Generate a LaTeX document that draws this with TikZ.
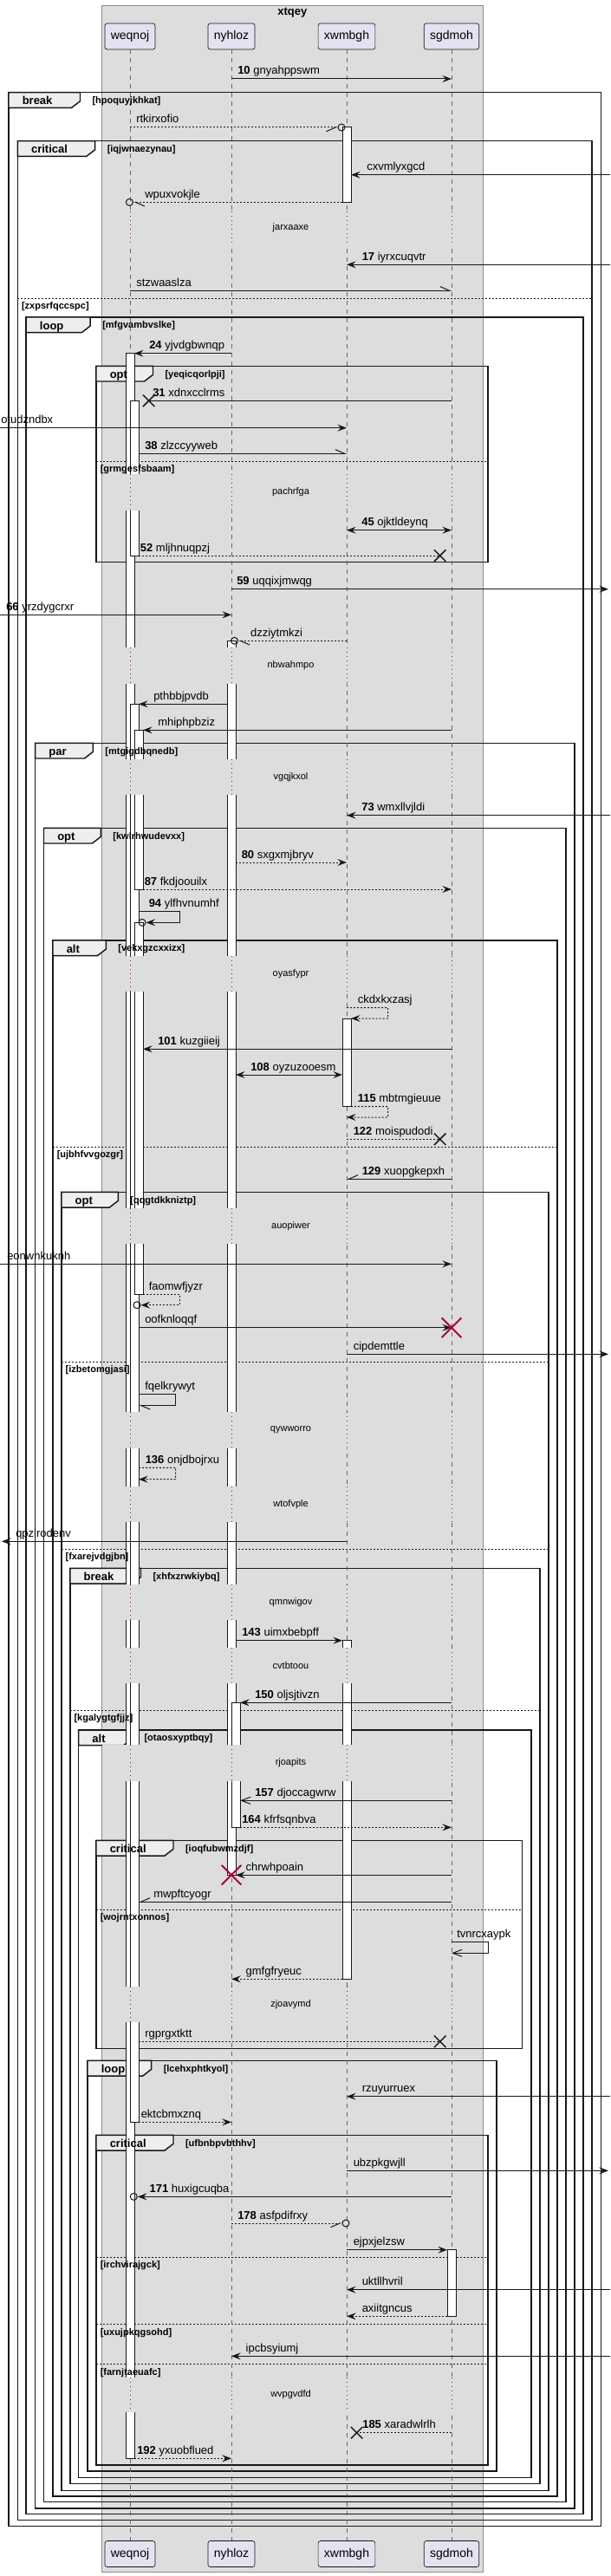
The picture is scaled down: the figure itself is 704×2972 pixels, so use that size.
\documentclass[tikz,border=0pt]{standalone}
\usepackage{fontspec}
\setmainfont{Liberation Sans}
\usetikzlibrary{arrows.meta,calc,shapes.misc}
\definecolor{boxgray}{HTML}{DDDDDD}
\definecolor{partfill}{HTML}{E2E2F0}
\definecolor{tabfill}{HTML}{EEEEEE}
\definecolor{lifered}{HTML}{A80036}
\definecolor{ink}{HTML}{181818}
\begin{document}
\begin{tikzpicture}[x=0.75pt,y=-0.75pt,
   every node/.style={inner sep=0pt},
   partbox/.style={draw=ink,line width=0.5pt,fill=partfill,rounded corners=2pt,minimum height=22.5pt,inner xsep=5.1pt,font=\fontsize{10.5}{12}\selectfont},
   ttl/.style={font=\bfseries\fontsize{9.75}{11}\selectfont},
   grpbox/.style={draw=black!45,line width=0.5pt,fill=boxgray},
   life/.style={draw=black!60,line width=0.5pt,dash pattern=on 3.75pt off 3.75pt},
   delayline/.style={draw=lifered,line width=0.75pt,dash pattern=on 0.75pt off 3pt},
   grpframe/.style={draw=ink,line width=1.1pt},
   grptab/.style={grpframe,fill=tabfill},
   kw/.style={anchor=base west,font=\bfseries\fontsize{9.75}{11}\selectfont},
   guard/.style={anchor=base west,font=\bfseries\fontsize{8.25}{10}\selectfont},
   elseline/.style={draw=ink,line width=0.75pt,dash pattern=on 1.5pt off 1.5pt},
   act/.style={draw=ink,line width=0.75pt,fill=white},
   lbl/.style={anchor=base west,font=\fontsize{9.75}{11}\selectfont},
   dly/.style={font=\fontsize{8.25}{10}\selectfont},
   msgline/.style={draw=ink,line width=0.75pt},
   call/.style={msgline,-{Stealth[length=8pt,width=6pt,inset=3pt]}},
   twoway/.style={msgline,{Stealth[length=8pt,width=6pt,inset=3pt]}-{Stealth[length=8pt,width=6pt,inset=3pt]}},
   reply/.style={dash pattern=on 1.5pt off 1.5pt},
   harpL/.style={msgline,-{Straight Barb[left,length=8pt,width=7pt]}},
   harpR/.style={msgline,-{Straight Barb[right,length=8pt,width=7pt]}},
   openhd/.style={msgline,-{Straight Barb[length=8pt,width=6pt]}},
   ring/.style={circle,draw=ink,line width=0.75pt,minimum size=6pt},
   xmark/.style={cross out,draw=ink,line width=1.1pt,minimum size=9pt},
   kill/.style={cross out,draw=lifered,line width=1.5pt,minimum size=15.5pt}]
\fill[white] (0,0) rectangle (704,2972);
\useasboundingbox (0,0) rectangle (704,2972);
\coordinate (lft) at (0,0);
\coordinate (rgt) at (704,0);
% box
\draw[grpbox] (117.3,6) rectangle (557.4,2967);
\node[ttl] (xtqey) at (337.4,15) {xtqey};
\node[partbox] (weqnoj) at (150,42) {weqnoj};
\node[partbox] (nyhloz) at (267,42) {nyhloz};
\node[partbox] (xwmbgh) at (400,42) {xwmbgh};
\node[partbox] (sgdmoh) at (521,42) {sgdmoh};
\node[partbox] (weqnojB) at (150,2946.5) {weqnoj};
\node[partbox] (nyhlozB) at (267,2946.5) {nyhloz};
\node[partbox] (xwmbghB) at (400,2946.5) {xwmbgh};
\node[partbox] (sgdmohB) at (521,2946.5) {sgdmoh};
% group frames
\draw[grpframe] (10,106.7) rectangle (693.6,2914.7);
\filldraw[grptab] (10,106.7) -- (92.5,106.7) -- ++(0,10) -- ++(-10,7.7) -| (10,106.7) -- cycle;
\draw[grpframe] (20.3,162.7) rectangle (682.8,2907.7);
\filldraw[grptab] (20.3,162.7) -- (109.7,162.7) -- ++(0,10) -- ++(-10,7.7) -| (20.3,162.7) -- cycle;
\draw[elseline] (20.3,344.3) -- (682.8,344.3);
\draw[grpframe] (30.2,366) rectangle (672.9,2900.7);
\filldraw[grptab] (30.2,366) -- (104.2,366) -- ++(0,10) -- ++(-10,7.7) -| (30.2,366) -- cycle;
\draw[grpframe] (111,422.3) rectangle (563.2,648.7);
\filldraw[grptab] (111,422.3) -- (176.5,422.3) -- ++(0,10) -- ++(-10,7.7) -| (111,422.3) -- cycle;
\draw[elseline] (111,532.3) -- (563.2,532.3);
\draw[grpframe] (40.6,857.3) rectangle (663,2894);
\filldraw[grptab] (40.6,857.3) -- (107.4,857.3) -- ++(0,10) -- ++(-10,7.7) -| (40.6,857.3) -- cycle;
\draw[grpframe] (50.5,955.3) rectangle (653,2886.7);
\filldraw[grptab] (50.5,955.3) -- (116.4,955.3) -- ++(0,10) -- ++(-10,7.7) -| (50.5,955.3) -- cycle;
\draw[grpframe] (61,1085) rectangle (643,2880);
\filldraw[grptab] (61,1085) -- (122.3,1085) -- ++(0,10) -- ++(-10,7.7) -| (61,1085) -- cycle;
\draw[elseline] (61,1323) -- (643,1323);
\draw[grpframe] (70.9,1375.3) rectangle (633.2,2873.3);
\filldraw[grptab] (70.9,1375.3) -- (136.3,1375.3) -- ++(0,10) -- ++(-10,7.7) -| (70.9,1375.3) -- cycle;
\draw[elseline] (70.9,1571.3) -- (633.2,1571.3);
\draw[elseline] (70.9,1787) -- (633.2,1787);
\draw[grpframe] (80.8,1809.3) rectangle (622.8,2865.7);
\filldraw[grptab] (80.8,1809.3) -- (162.5,1809.3) -- ++(0,10) -- ++(-10,7.7) -| (80.8,1809.3) -- cycle;
\draw[elseline] (80.8,1973.3) -- (622.8,1973.3);
\draw[grpframe] (90.7,1996) rectangle (612.9,2858.3);
\filldraw[grptab] (90.7,1996) -- (152.5,1996) -- ++(0,10) -- ++(-10,7.7) -| (90.7,1996) -- cycle;
\draw[grpframe] (111,2123.3) rectangle (602.5,2363.3);
\filldraw[grptab] (111,2123.3) -- (200,2123.3) -- ++(0,10) -- ++(-10,7.7) -| (111,2123.3) -- cycle;
\draw[elseline] (111,2203) -- (602.5,2203);
\draw[grpframe] (101,2377.3) rectangle (573.2,2851);
\filldraw[grptab] (101,2377.3) -- (174.7,2377.3) -- ++(0,10) -- ++(-10,7.7) -| (101,2377.3) -- cycle;
\draw[grpframe] (111,2463.3) rectangle (563.2,2844);
\filldraw[grptab] (111,2463.3) -- (200,2463.3) -- ++(0,10) -- ++(-10,7.7) -| (111,2463.3) -- cycle;
\draw[elseline] (111,2604.3) -- (563.2,2604.3);
\draw[elseline] (111,2681.7) -- (563.2,2681.7);
\draw[elseline] (111,2727.7) -- (563.2,2727.7);
% lifelines
\draw[life] (weqnoj.south) -- (weqnojB.north);
\draw[life] (nyhloz.south) -- (nyhlozB.north);
\draw[life] (xwmbgh.south) -- (xwmbghB.north);
\draw[life] (sgdmoh.south) -- (sgdmohB.north);
% activations
\filldraw[act] (145,407.7) rectangle (155,2836.3);
\filldraw[act] (150,462.3) rectangle (160,641);
\filldraw[act] (150,812.3) rectangle (160,2448.3);
\filldraw[act] (155,842.3) rectangle (165,1026);
\filldraw[act] (155,1064.3) rectangle (165,1493.7);
\filldraw[act] (262,739.3) rectangle (272,2163.3);
\filldraw[act] (267,1964.3) rectangle (277,2108.3);
\filldraw[act] (395,147) rectangle (405,233.3);
\filldraw[act] (395,1175) rectangle (405,1276.7);
\filldraw[act] (395,1892.7) rectangle (405,2283.3);
\filldraw[act] (516,2595.7) rectangle (526,2672.3);
% group keywords and guards
\node[kw] (kbreakA) at (25.5,120.7) {break};
\node[guard] (hpoquyjkhkat) at (106.3,119.4) {[hpoquyjkhkat]};
\node[kw] (kcriticalA) at (35.8,176.7) {critical};
\node[guard] (iqjwnaezynau) at (123.5,175.4) {[iqjwnaezynau]};
\node[guard] (zxpsrfqccspc) at (24.8,356.7) {[zxpsrfqccspc]};
\node[kw] (kloopA) at (45.7,380) {loop};
\node[guard] (mfgvambvslke) at (118,378.7) {[mfgvambvslke]};
\node[kw] (koptA) at (126.5,436.3) {opt};
\node[guard] (yeqicqorlpji) at (190.3,435) {[yeqicqorlpji]};
\node[guard] (grmgesfsbaam) at (115.5,544.7) {[grmgesfsbaam]};
\node[kw] (kpar) at (56.1,871.3) {par};
\node[guard] (mtgigdbqnedb) at (121.2,870) {[mtgigdbqnedb]};
\node[kw] (koptB) at (66,969.3) {opt};
\node[guard] (kwlrhwudevxx) at (130.2,968) {[kwlrhwudevxx]};
\node[kw] (kaltA) at (76.5,1099) {alt};
\node[guard] (vekxgzcxxizx) at (136.1,1097.7) {[vekxgzcxxizx]};
\node[guard] (ujbhfvvgozgr) at (65.5,1335.4) {[ujbhfvvgozgr]};
\node[kw] (koptC) at (86.4,1389.3) {opt};
\node[guard] (qqgtdkkniztp) at (150.1,1388) {[qqgtdkkniztp]};
\node[guard] (izbetomgjasi) at (75.4,1583.7) {[izbetomgjasi]};
\node[guard] (fxarejvdgjbn) at (75.4,1799.4) {[fxarejvdgjbn]};
\node[kw] (kbreakB) at (96.3,1823.3) {break};
\node[guard] (xhfxzrwkiybq) at (176.3,1822) {[xhfxzrwkiybq]};
\node[guard] (kgalygtgfjjz) at (85.3,1985.7) {[kgalygtgfjjz]};
\node[kw] (kaltB) at (106.2,2010) {alt};
\node[guard] (otaosxyptbqy) at (166.3,2008.7) {[otaosxyptbqy]};
\node[kw] (kcriticalB) at (126.5,2137.3) {critical};
\node[guard] (ioqfubwmzdjf) at (213.8,2136) {[ioqfubwmzdjf]};
\node[guard] (wojrntxonnos) at (115.5,2215.4) {[wojrntxonnos]};
\node[kw] (kloopB) at (116.5,2391.3) {loop};
\node[guard] (lcehxphtkyol) at (188.5,2390) {[lcehxphtkyol]};
\node[kw] (kcriticalC) at (126.5,2477.3) {critical};
\node[guard] (ufbnbpvbthhv) at (213.8,2476) {[ufbnbpvbthhv]};
\node[guard] (irchvirajgck) at (115.5,2616.7) {[irchvirajgck]};
\node[guard] (uxujpkqgsohd) at (115.5,2694.1) {[uxujpkqgsohd]};
\node[guard] (farnjtaeuafc) at (115.5,2740.1) {[farnjtaeuafc]};
% delays
\foreach \a/\b/\t in {244/282/jarxaaxe,547/589/pachrfga,747/789/nbwahmpo,876/917/vgqjkxol,
   1103/1144/oyasfypr,1394/1435/auopiwer,1629/1671/qywworro,1715/1756/wtofvple,1828/1869/qmnwigov,
   1901/1942/cvtbtoou,2013/2055/rjoapits,2292/2333/zjoavymd,2743/2783/wvpgvdfd}{
  \fill[boxgray] (118,\a) rectangle (557,\b);
  \foreach \p in {weqnoj,nyhloz,xwmbgh,sgdmoh}
    \draw[delayline] (\p |- 0,\a) -- (\p |- 0,\b);
  \node[dly] (\t) at ($(335.5,\a)!0.5!(335.5,\b)$) {\t};
}
% messages
\draw[call] (nyhloz |- 0,91) -- (sgdmoh |- 0,91);
\node[lbl] (gnyahppswm) at (274,86) {\textbf{10} gnyahppswm};
\node[ring] (o1) at (394,147) {};
\draw[harpR,reply] (weqnoj |- 0,147) -- (o1.west);
\node[lbl] (rtkirxofio) at (157,142) {rtkirxofio};
\draw[call] (rgt |- 0,201.7) -- ($(xwmbgh |- 0,201.7)+(5,0)$);
\node[lbl] (cxvmlyxgcd) at (423,196.7) {cxvmlyxgcd};
\node[ring] (o2) at (149.4,233.3) {};
\draw[harpL,reply] ($(xwmbgh |- 0,233.3)+(-5,0)$) -- (o2.east);
\node[lbl] (wpuxvokjle) at (167,228.3) {wpuxvokjle};
\draw[call] (rgt |- 0,305.3) -- (xwmbgh |- 0,305.3);
\node[lbl] (iyrxcuqvtr) at (417.5,300.3) {\textbf{17} iyrxcuqvtr};
\draw[harpL] (weqnoj |- 0,335.3) -- (sgdmoh |- 0,335.3);
\node[lbl] (stzwaaslza) at (157,330.3) {stzwaaslza};
\draw[call] (nyhloz |- 0,407.7) -- ($(weqnoj |- 0,407.7)+(5,0)$);
\node[lbl] (yjvdgbwnqp) at (172,402.7) {\textbf{24} yjvdgbwnqp};
\node[xmark] (x1) at (171.7,462.3) {};
\draw[msgline] (sgdmoh |- 0,462.3) -- (x1.center);
\node[lbl] (xdnxcclrms) at (176,457.3) {\textbf{31} xdnxcclrms};
\draw[call] (lft |- 0,493.7) -- (xwmbgh |- 0,493.7);
\node[lbl] (otudzndbx) at (1,488.7) {otudzndbx};
\draw[harpL] ($(weqnoj |- 0,523.3)+(10,0)$) -- (xwmbgh |- 0,523.3);
\node[lbl] (zlzccyyweb) at (167,518.3) {\textbf{38} zlzccyyweb};
\draw[twoway] (xwmbgh |- 0,611.7) -- (sgdmoh |- 0,611.7);
\node[lbl] (ojktldeynq) at (417,606.7) {\textbf{45} ojktldeynq};
\node[xmark] (x2) at (507.7,641) {};
\draw[msgline,reply] ($(weqnoj |- 0,641)+(10,0)$) -- (x2.center);
\node[lbl] (mljhnuqpzj) at (161.6,636) {\textbf{52} mljhnuqpzj};
\draw[call] (nyhloz |- 0,679.7) -- ($(rgt |- 0,679.7)+(-2,0)$);
\node[lbl] (uqqixjmwqg) at (273,674.7) {\textbf{59} uqqixjmwqg};
\draw[call] (lft |- 0,709.3) -- (nyhloz |- 0,709.3);
\node[lbl] (yrzdygcrxr) at (7,704.3) {\textbf{66} yrzdygcrxr};
\node[ring] (o3) at (270.5,739.3) {};
\draw[harpL,reply] (xwmbgh |- 0,739.3) -- (o3.east);
\node[lbl] (dzziytmkzi) at (288.8,734.3) {dzziytmkzi};
\draw[call] ($(nyhloz |- 0,812.3)+(-5,0)$) -- ($(weqnoj |- 0,812.3)+(10,0)$);
\node[lbl] (pthbbjpvdb) at (177,807.3) {pthbbjpvdb};
\draw[call] (sgdmoh |- 0,842.3) -- ($(weqnoj |- 0,842.3)+(15,0)$);
\node[lbl] (mhiphpbziz) at (182,837.3) {mhiphpbziz};
\draw[call] (rgt |- 0,940.7) -- (xwmbgh |- 0,940.7);
\node[lbl] (wmxllvjldi) at (417,935.7) {\textbf{73} wmxllvjldi};
\draw[call,reply] ($(nyhloz |- 0,995)+(5,0)$) -- (xwmbgh |- 0,995);
\node[lbl] (sxgxmjbryv) at (278.5,990) {\textbf{80} sxgxmjbryv};
\draw[call,reply] ($(weqnoj |- 0,1026)+(15,0)$) -- (sgdmoh |- 0,1026);
\node[lbl] (fkdjoouilx) at (166.5,1021) {\textbf{87} fkdjoouilx};
\node[ring] (o4) at (164,1064.3) {};
\draw[call] ($(weqnoj |- 0,1051.7)+(10,0)$) -- ++(47.6,0) -- ++(0,12.6) -- (o4.east);
\node[lbl] (ylfhvnumhf) at (171.5,1046.7) {\textbf{94} ylfhvnumhf};
\draw[call,reply] (xwmbgh |- 0,1162.7) -- ++(47.7,0) -- ++(0,12.3) -- ($(xwmbgh |- 0,1175)+(5,0)$);
\node[lbl] (ckdxkxzasj) at (412.5,1157.7) {ckdxkxzasj};
\draw[call] (sgdmoh |- 0,1210.3) -- ($(weqnoj |- 0,1210.3)+(15,0)$);
\node[lbl] (kuzgiieij) at (182,1205.3) {\textbf{101} kuzgiieij};
\draw[twoway] ($(nyhloz |- 0,1240)+(5,0)$) -- ($(xwmbgh |- 0,1240)+(-5,0)$);
\node[lbl] (oyzuzooesm) at (289,1235) {\textbf{108} oyzuzooesm};
\draw[call,reply] ($(xwmbgh |- 0,1276.7)+(5,0)$) -- ++(42.7,0) -- ++(0,12.3) -- (xwmbgh |- 0,1289);
\node[lbl] (mbtmgieuue) at (412.5,1271.7) {\textbf{115} mbtmgieuue};
\node[xmark] (x3) at (507.7,1314.3) {};
\draw[msgline,reply] (xwmbgh |- 0,1314.3) -- (x3.center);
\node[lbl] (moispudodi) at (407.5,1309.3) {\textbf{122} moispudodi};
\draw[harpR] (sgdmoh |- 0,1360.3) -- (xwmbgh |- 0,1360.3);
\node[lbl] (xuopgkepxh) at (417.5,1355.3) {\textbf{129} xuopgkepxh};
\draw[call] (lft |- 0,1458.3) -- (sgdmoh |- 0,1458.3);
\node[lbl] (eonwnkuknh) at (8,1453.3) {eonwnkuknh};
\node[ring] (o5) at (158,1505.7) {};
\draw[call,reply] ($(weqnoj |- 0,1493.7)+(15,0)$) -- ++(42.6,0) -- ++(0,12) -- (o5.east);
\node[lbl] (faomwfjyzr) at (171.5,1488.7) {faomwfjyzr};
\draw[call] ($(weqnoj |- 0,1531.7)+(10,0)$) -- (sgdmoh |- 0,1531.7);
\node[kill] (d1) at (sgdmoh |- 0,1531.7) {};
\node[lbl] (oofknloqqf) at (167,1526.7) {oofknloqqf};
\draw[call] (xwmbgh |- 0,1562.3) -- ($(rgt |- 0,1562.3)+(-2,0)$);
\node[lbl] (cipdemttle) at (407.5,1557.3) {cipdemttle};
\draw[harpL] ($(weqnoj |- 0,1608.3)+(10,0)$) -- ++(42.6,0) -- ++(0,13) -- ($(weqnoj |- 0,1621.3)+(10,0)$);
\node[lbl] (fqelkrywyt) at (167,1603.3) {fqelkrywyt};
\draw[call,reply] ($(weqnoj |- 0,1693.3)+(10,0)$) -- ++(42.6,0) -- ++(0,13.4) -- ($(weqnoj |- 0,1706.7)+(10,0)$);
\node[lbl] (onjdbojrxu) at (167.5,1688.3) {\textbf{136} onjdbojrxu};
\draw[call] (xwmbgh |- 0,1778.3) -- ($(lft |- 0,1778.3)+(2,0)$);
\node[lbl] (qpzlrodenv) at (18,1773.3) {qpzlrodenv};
\draw[call] ($(nyhloz |- 0,1892.7)+(5,0)$) -- ($(xwmbgh |- 0,1892.7)+(-5,0)$);
\node[lbl] (uimxbebpff) at (279,1887.7) {\textbf{143} uimxbebpff};
\draw[call] (sgdmoh |- 0,1964.3) -- ($(nyhloz |- 0,1964.3)+(10,0)$);
\node[lbl] (oljsjtivzn) at (294,1959.3) {\textbf{150} oljsjtivzn};
\draw[openhd] (sgdmoh |- 0,2077.3) -- ($(nyhloz |- 0,2077.3)+(10,0)$);
\node[lbl] (djoccagwrw) at (294,2072.3) {\textbf{157} djoccagwrw};
\draw[call,reply] ($(nyhloz |- 0,2108.3)+(10,0)$) -- (sgdmoh |- 0,2108.3);
\node[lbl] (kfrfsqnbva) at (279,2103.3) {\textbf{164} kfrfsqnbva};
\draw[call] (sgdmoh |- 0,2163.3) -- ($(nyhloz |- 0,2163.3)+(5,0)$);
\node[kill] (d2) at (nyhloz |- 0,2163.3) {};
\node[lbl] (chrwhpoain) at (283.4,2158.3) {chrwhpoain};
\draw[harpR] (sgdmoh |- 0,2194.3) -- ($(weqnoj |- 0,2194.3)+(10,0)$);
\node[lbl] (mwpftcyogr) at (177,2189.3) {mwpftcyogr};
\draw[openhd] (sgdmoh |- 0,2240) -- ++(42.2,0) -- ++(0,13.3) -- (sgdmoh |- 0,2253.3);
\node[lbl] (tvnrcxaypk) at (527,2235) {tvnrcxaypk};
\draw[call,reply] ($(xwmbgh |- 0,2283.3)+(-5,0)$) -- (nyhloz |- 0,2283.3);
\node[lbl] (gmfgfryeuc) at (283.4,2278.3) {gmfgfryeuc};
\node[xmark] (x4) at (507.7,2355.3) {};
\draw[msgline,reply] ($(weqnoj |- 0,2355.3)+(10,0)$) -- (x4.center);
\node[lbl] (rgprgxtktt) at (167,2350.3) {rgprgxtktt};
\draw[call] (rgt |- 0,2418.7) -- (xwmbgh |- 0,2418.7);
\node[lbl] (rzuyurruex) at (417.5,2413.7) {rzuyurruex};
\draw[call,reply] ($(weqnoj |- 0,2448.3)+(10,0)$) -- (nyhloz |- 0,2448.3);
\node[lbl] (ektcbmxznq) at (162.5,2443.3) {ektcbmxznq};
\draw[call] (xwmbgh |- 0,2504.3) -- ($(rgt |- 0,2504.3)+(-2,0)$);
\node[lbl] (ubzpkgwjll) at (407.5,2499.3) {ubzpkgwjll};
\node[ring] (o6) at (154.3,2534.3) {};
\draw[call] (sgdmoh |- 0,2534.3) -- (o6.east);
\node[lbl] (huxigcuqba) at (172.4,2529.3) {\textbf{171} huxigcuqba};
\node[ring] (o7) at (399,2565) {};
\draw[harpR,reply] (nyhloz |- 0,2565) -- (o7.west);
\node[lbl] (asfpdifrxy) at (274,2560) {\textbf{178} asfpdifrxy};
\draw[call] (xwmbgh |- 0,2595.7) -- ($(sgdmoh |- 0,2595.7)+(-5,0)$);
\node[lbl] (ejpxjelzsw) at (407.5,2590.7) {ejpxjelzsw};
\draw[call] (rgt |- 0,2641.7) -- (xwmbgh |- 0,2641.7);
\node[lbl] (uktllhvril) at (417.5,2636.7) {uktllhvril};
\draw[call,reply] ($(sgdmoh |- 0,2672.3)+(-5,0)$) -- (xwmbgh |- 0,2672.3);
\node[lbl] (axiitgncus) at (417.5,2667.3) {axiitgncus};
\draw[call] (rgt |- 0,2718.3) -- (nyhloz |- 0,2718.3);
\node[lbl] (ipcbsyiumj) at (283.4,2713.3) {ipcbsyiumj};
\node[xmark] (x5) at (411.6,2806.7) {};
\draw[msgline,reply] (sgdmoh |- 0,2806.7) -- (x5.center);
\node[lbl] (xaradwlrlh) at (418,2801.7) {\textbf{185} xaradwlrlh};
\draw[call,reply] ($(weqnoj |- 0,2836.3)+(5,0)$) -- (nyhloz |- 0,2836.3);
\node[lbl] (yxuobflued) at (158,2831.3) {\textbf{192} yxuobflued};
\end{tikzpicture}
\end{document}
